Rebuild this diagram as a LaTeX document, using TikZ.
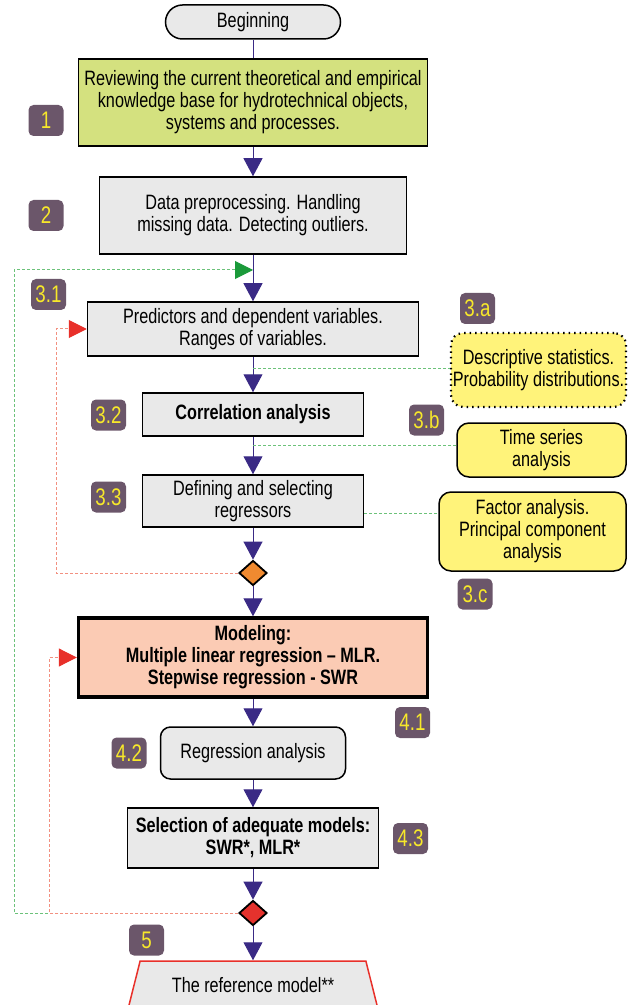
\documentclass[tikz,border=0pt]{standalone}
\usepackage{fontspec}
\setmainfont{Liberation Sans}[FakeStretch=0.78]
\usetikzlibrary{shapes.geometric,arrows.meta}

\definecolor{boxgray}{HTML}{E9E9E9}
\definecolor{boxgreen}{HTML}{D4E17F}
\definecolor{boxsalmon}{HTML}{FBCBB4}
\definecolor{boxyellow}{HTML}{FFF37A}
\definecolor{tagfill}{HTML}{6B566A}
\definecolor{tagtext}{HTML}{F7E82A}
\definecolor{flowpurple}{HTML}{3A2A85}
\definecolor{loopgreen}{HTML}{6CC27A}
\definecolor{tipgreen}{HTML}{1A9A3A}
\definecolor{loopred}{HTML}{F29080}
\definecolor{tipred}{HTML}{E8302A}
\definecolor{diaorange}{HTML}{F08A30}
\definecolor{diared}{HTML}{E5322D}

\begin{document}
\begin{tikzpicture}[x=0.5pt,y=-0.5pt,
    font=\fontsize{10.4}{11}\selectfont,
    box/.style={draw, line width=0.75pt, fill=boxgray, align=center, inner sep=0pt},
    note/.style={draw, line width=0.75pt, fill=boxyellow, rounded corners=6pt, align=center, inner sep=0pt},
    tag/.style={fill=tagfill, text=tagtext, rounded corners=2.5pt, inner sep=0pt,
        minimum width=17.5pt, minimum height=15.5pt, font=\fontsize{12}{12}\selectfont},
    gate/.style={diamond, draw, line width=0.9pt, inner sep=0pt, minimum width=14pt, minimum height=12.5pt},
    flow/.style={flowpurple, line width=0.5pt, -{Triangle[width=9.5pt,length=9pt]}},
    greenloop/.style={loopgreen, line width=0.5pt, dash pattern=on 1.5pt off 1pt,
        -{Triangle[width=9pt,length=9pt,color=tipgreen]}},
    redloop/.style={loopred, line width=0.5pt, dash pattern=on 1.5pt off 1pt,
        -{Triangle[width=9pt,length=9pt,color=tipred]}},
    greenlink/.style={loopgreen, line width=0.5pt, dash pattern=on 1.5pt off 1pt}]

    \useasboundingbox (0,0) rectangle (630,1005);
    \clip (0,0) rectangle (630,1005);

    % main column
    \node (beg) at (253,22) [box, rounded corners=8.5pt, minimum width=87.5pt, minimum height=17pt] {Beginning};
    \node (b1) at (253,102.5) [box, fill=boxgreen, minimum width=174.5pt, minimum height=43.5pt]
        {Reviewing the current theoretical and empirical\\knowledge base for hydrotechnical objects,\\systems and processes.};
    \node (b2) at (253,215.5) [box, minimum width=153.5pt, minimum height=38.5pt]
        {Data preprocessing. Handling\\missing data. Detecting outliers.};
    \node (b31) at (253,329) [box, minimum width=165.5pt, minimum height=27pt]
        {Predictors and dependent variables.\\Ranges of variables.};
    \node (b32) at (253,414.5) [box, minimum width=110.5pt, minimum height=21.5pt]
        {\bfseries Correlation analysis};
    \node (b33) at (253,501) [box, minimum width=110.5pt, minimum height=26pt]
        {Defining and selecting\\regressors};
    \node (d1) at (253,573) [gate, fill=diaorange] {};
    \node (b4) at (253,657.5) [box, fill=boxsalmon, line width=1.7pt, minimum width=174.5pt, minimum height=39.5pt]
        {\bfseries Modeling:\\\bfseries Multiple linear regression -- MLR.\\\bfseries Stepwise regression - SWR};
    \node (b42) at (253,753) [box, rounded corners=5pt, minimum width=92.5pt, minimum height=26pt]
        {Regression analysis};
    \node (b43) at (253,838) [box, minimum width=125.5pt, minimum height=30pt]
        {\bfseries Selection of adequate models:\\\bfseries SWR*, MLR*};
    \node (d2) at (253,913) [gate, fill=diared] {};
    \node (b5) at (253,989) [trapezium, draw=tipred, line width=0.75pt, fill=boxgray,
        trapezium left angle=58.5, trapezium right angle=58.5, trapezium stretches body,
        minimum width=127pt, minimum height=28pt, inner sep=0pt] {\raisebox{4pt}{The reference model**}};

    % side notes
    \node (ya) at (538.5,370) [note, dotted, line width=1.1pt, minimum width=87.5pt, minimum height=37pt]
        {Descriptive statistics.\\Probability distributions.};
    \node (yb) at (541.5,450) [note, minimum width=84.5pt, minimum height=27pt]
        {Time series\\analysis};
    \node (yc) at (532.5,531.5) [note, minimum width=93.5pt, minimum height=39.5pt]
        {Factor analysis.\\Principal component\\analysis};

    % step tags
    \node (t1) at (46,120.5) [tag] {1};
    \node (t2) at (46,215.5) [tag] {2};
    \node (t31) at (48.5,294.5) [tag] {3.1};
    \node (t3a) at (477.5,308.5) [tag] {3.a};
    \node (t32) at (108.5,415) [tag] {3.2};
    \node (t3b) at (426.5,420) [tag] {3.b};
    \node (t33) at (108.5,497) [tag] {3.3};
    \node (t3c) at (475,594) [tag] {3.c};
    \node (t41) at (412.5,722.5) [tag] {4.1};
    \node (t42) at (129,753) [tag] {4.2};
    \node (t43) at (410.5,838.5) [tag] {4.3};
    \node (t5) at (146.5,940) [tag] {5};

    % connectors
    \coordinate (j1) at (253,270);
    \coordinate (ja) at (253,368);
    \coordinate (jb) at (253,445);
    \coordinate (jc) at (364,513);
    \draw[flowpurple, line width=0.5pt] (beg) -- (b1);
    \draw[flow] (b1) -- (b2);
    \draw[flow] (b2) -- (b31);
    \draw[flow] (b31) -- (b32);
    \draw[flow] (b32) -- (b33);
    \draw[flow] (b33) -- (d1);
    \draw[flow] (d1) -- (b4);
    \draw[flow] (b4) -- (b42);
    \draw[flow] (b42) -- (b43);
    \draw[flow] (b43) -- (d2);
    \draw[flow] (d2) -- (b5);

    \draw[greenlink] (ja) -- (ja -| ya.west);
    \draw[greenlink] (jb) -- (jb -| yb.west);
    \draw[greenlink] (jc) -- (jc -| yc.west);

    \draw[greenloop] (d2.west) -- ++(-224,0) |- (j1);
    \draw[redloop] (d1.west) -- ++(-182,0) |- (b31.west);
    \draw[redloop] (d2.west) -- ++(-189,0) |- (b4.west);
\end{tikzpicture}
\end{document}
